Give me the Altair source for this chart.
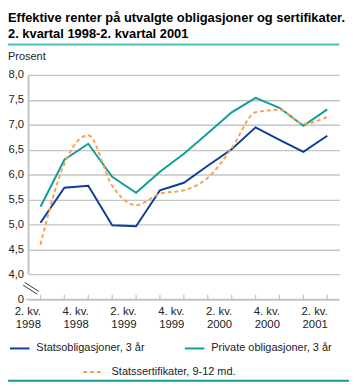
import altair as alt
import pandas as pd

FONT = "Liberation Sans"

kvartaler = ["2. kv. 1998", "3. kv. 1998", "4. kv. 1998", "1. kv. 1999", "2. kv. 1999",
             "3. kv. 1999", "4. kv. 1999", "1. kv. 2000", "2. kv. 2000", "3. kv. 2000",
             "4. kv. 2000", "1. kv. 2001", "2. kv. 2001"]
statsobligasjoner = [5.04, 5.74, 5.78, 4.99, 4.97, 5.69, 5.84, 6.18, 6.51, 6.95, 6.70, 6.46, 6.78]
private_obligasjoner = [5.36, 6.30, 6.62, 5.96, 5.64, 6.06, 6.42, 6.83, 7.25, 7.54, 7.34, 6.98, 7.31]
statssertifikater = [4.60, 6.22, 6.79, 5.78, 5.39, 5.62, 5.69, 5.94, 6.53, 7.25, 7.30, 7.02, 7.16]

serier = ["Statsobligasjoner, 3 år", "Private obligasjoner, 3 år", "Statssertifikater, 9-12 md."]
farger = ["#0c3c9c", "#0f9e99", "#f8a24f"]
y_verdier = [3.5, 4.0, 4.5, 5.0, 5.5, 6.0, 6.5, 7.0, 7.5, 8.0]

tittel1 = "Effektive renter på utvalgte obligasjoner og sertifikater."
tittel2 = "2. kvartal 1998-2. kvartal 2001"
y_tittel = "Prosent"

rows = []
for navn, vals in zip(serier, [statsobligasjoner, private_obligasjoner, statssertifikater]):
    for k, v in zip(kvartaler, vals):
        rows.append({"kvartal": k, "serie": navn, "verdi": v})
df = pd.DataFrame(rows)
solid_df = df[df["serie"] != serier[2]]
dash_df = df[df["serie"] == serier[2]]
kv_df = pd.DataFrame({"kvartal": kvartaler})
one = pd.DataFrame({"a": [0]})

W, H = 318, 230
GRID = "#c4c4c4"

x_enc = alt.X("kvartal:O", sort=kvartaler,
              scale=alt.Scale(type="point", padding=0.5, domain=kvartaler),
              axis=alt.Axis(title=None, values=kvartaler[::2],
                            labelExpr="[slice(datum.label, 0, 6), slice(datum.label, 7)]",
                            labelAngle=0, domain=False, ticks=False, tickSize=0, grid=False,
                            labelFont=FONT, labelFontSize=11.6, labelColor="#222222",
                            labelPadding=15, labelBaseline="alphabetic", labelLineHeight=14))
y_enc = alt.Y("verdi:Q", scale=alt.Scale(domain=[3.5, 8.0], nice=False, zero=False),
              axis=alt.Axis(title=None, values=y_verdier,
                            labelExpr="datum.value == 3.5 ? '0' : replace(format(datum.value, '.1f'), '.', ',')",
                            domain=False, ticks=False, tickSize=0, grid=True, gridColor=GRID,
                            gridWidth=1.4, labelFont=FONT, labelFontSize=11.5, labelColor="#222222",
                            labelPadding=5, labelBaseline="middle"))
color_enc = alt.Color("serie:N", scale=alt.Scale(domain=serier, range=farger), legend=None)

solid = alt.Chart(solid_df).mark_line(strokeWidth=2).encode(x=x_enc, y=y_enc, color=color_enc,
                                                            detail="serie:N")
dashed = alt.Chart(dash_df).mark_line(strokeWidth=2, strokeDash=[4, 3], interpolate="monotone").encode(
    x=x_enc, y=y_enc, color=color_enc)

ticks = alt.Chart(kv_df).mark_rule(color=GRID, strokeWidth=1.3).encode(
    x=alt.X("kvartal:O", sort=kvartaler), y=alt.value(H), y2=alt.value(H - 5))
x_line = alt.Chart(one).mark_rule(color=GRID, strokeWidth=1.5).encode(
    x=alt.value(-3), x2=alt.value(W), y=alt.value(H), y2=alt.value(H))
y_line = alt.Chart(one).mark_rule(color=GRID, strokeWidth=2).encode(
    x=alt.value(0), x2=alt.value(0), y=alt.value(0), y2=alt.value(204.4))
brk1 = alt.Chart(one).mark_rule(color="#333333", strokeWidth=1).encode(
    x=alt.value(-4), y=alt.value(212.4), x2=alt.value(10.5), y2=alt.value(221.7))
brk2 = alt.Chart(one).mark_rule(color="#333333", strokeWidth=1).encode(
    x=alt.value(-5.5), y=alt.value(215.2), x2=alt.value(9), y2=alt.value(224.5))

def txt(s, x, y, size=11.2, weight="normal", color="#222222", baseline="alphabetic"):
    return alt.Chart(one).mark_text(text=s, align="left", baseline=baseline, font=FONT,
                                    fontSize=size, fontWeight=weight, color=color).encode(
        x=alt.value(x), y=alt.value(y))

def hline(x1, x2, y, color, width=2, dash=None):
    kw = dict(color=color, strokeWidth=width)
    if dash:
        kw["strokeDash"] = dash
    return alt.Chart(one).mark_rule(**kw).encode(x=alt.value(x1), x2=alt.value(x2),
                                                 y=alt.value(y), y2=alt.value(y))

title1 = txt(tittel1, -21, -54, size=13.2, weight="bold", color="#000000")
title2 = txt(tittel2, -21, -38, size=13.2, weight="bold", color="#000000")
underline = hline(-21, W, -31, "#4cbfbd", width=2)
prosent = txt(y_tittel, -21, -15, size=11.2)

leg = [
    hline(-19, 1, 280, farger[0]), txt(serier[0], 8, 280, baseline="middle"),
    hline(160, 180, 280, farger[1]), txt(serier[1], 187, 280, baseline="middle"),
    hline(56, 76, 304, farger[2], dash=[4, 3]), txt(serier[2], 85, 304, baseline="middle"),
    hline(-21, W + 10, 313, "#159a98", width=2),
]

chart = alt.layer(
    x_line, y_line, ticks, brk1, brk2, solid, dashed,
    title1, title2, underline, prosent, *leg
).properties(
    width=W, height=H,
    autosize=alt.AutoSizeParams(type="none"),
    padding={"left": 21, "top": 64, "right": 10, "bottom": 85},
).configure_view(stroke=None)

chart.save("out.html", embed_options={"renderer": "svg", "actions": False})
